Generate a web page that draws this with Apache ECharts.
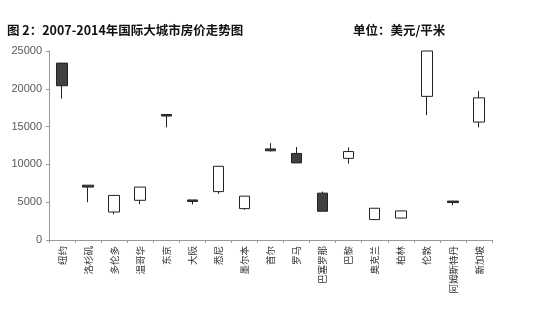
<!DOCTYPE html>
<html>
<head>
<meta charset="utf-8">
<script src="https://cdn.jsdelivr.net/npm/echarts@6/dist/echarts.min.js"></script>
<style>html,body{margin:0;padding:0;background:#fff}#c{width:550px;height:314px}</style>
</head>
<body>
<div id="c"></div>
<script>
var cities = ['纽约','洛杉矶','多伦多','温哥华','东京','大阪','悉尼','墨尔本','首尔','罗马','巴塞罗那','巴黎','奥克兰','柏林','伦敦','阿姆斯特丹','新加坡'];
// [open(2007), close(2014), low, high]
var openVals  = [23400, 7250, 3700, 5250, 16600, 5300, 6400, 4150, 12050, 11450, 6200, 10800, 2700, 2900, 19000, 5150, 15600];
var closeVals = [20400, 7000, 5900, 7000, 16400, 5100, 9750, 5800, 11800, 10200, 3800, 11700, 4200, 3850, 25000, 4950, 18800];
var lowVals   = [18700, 5000, 3400, 4750, 14900, 4700, 6100, 4000, 11700, 10200, 3800, 10100, 2700, 2900, 16500, 4600, 14900];
var highVals  = [23400, 7250, 5900, 7000, 16600, 5300, 9750, 5800, 12800, 12300, 6400, 12250, 4200, 3850, 25000, 5150, 19700];
var yTicks = [0, 5000, 10000, 15000, 20000, 25000];

var data = cities.map(function(c, i){ return [openVals[i], closeVals[i], lowVals[i], highVals[i]]; });
var chart = echarts.init(document.getElementById('c'), null, {renderer:'canvas'});
var cjk = '"Noto Sans CJK SC", "Noto Sans", sans-serif';
chart.setOption({
  animation: false,
  backgroundColor: '#fff',
  title: [
    {text: '图 2：2007-2014年国际大城市房价走势图', left: 7, top: 24, padding: 0,
     textStyle: {fontFamily: cjk, fontSize: 12.5, fontWeight: 'bold', color: '#111'}},
    {text: '单位：美元/平米', left: 353, top: 24, padding: 0,
     textStyle: {fontFamily: cjk, fontSize: 12.5, fontWeight: 'bold', color: '#111'}}
  ],
  grid: {left: 49, right: 58, top: 51, bottom: 74, containLabel: false},
  xAxis: {
    type: 'category', data: cities, boundaryGap: true,
    axisLine: {lineStyle: {color: '#999', width: 1}},
    axisTick: {show: true, length: 3, lineStyle: {color: '#999'}, alignWithLabel: false},
    axisLabel: {rotate: 90, interval: 0, margin: 6, fontSize: 9.5, color: '#333', fontFamily: cjk}
  },
  yAxis: {
    type: 'value', min: yTicks[0], max: yTicks[yTicks.length-1], interval: 5000,
    axisLine: {show: true, lineStyle: {color: '#999', width: 1}},
    axisTick: {show: true, length: 3, lineStyle: {color: '#999'}},
    splitLine: {show: false},
    axisLabel: {fontSize: 11, color: '#595959', margin: 7, fontFamily: '"Liberation Sans", sans-serif',
      formatter: function(v){ return String(v); }}
  },
  series: [{
    type: 'candlestick',
    data: data,
    barWidth: 11,
    itemStyle: {color: '#ffffff', color0: '#404040', borderColor: '#222', borderColor0: '#222', borderWidth: 1}
  }]
});
</script>
</body>
</html>
